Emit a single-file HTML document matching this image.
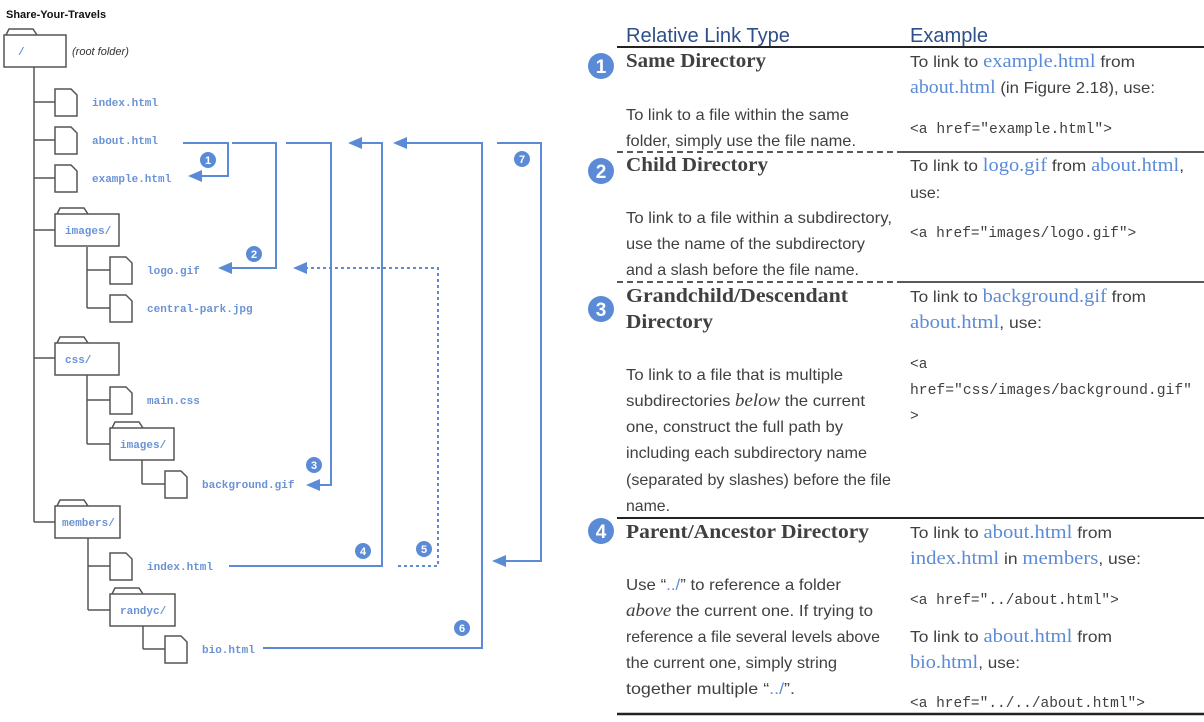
<!DOCTYPE html>
<html><head><meta charset="utf-8"><style>
body{margin:0;background:#fff;width:1204px;height:722px;overflow:hidden}
svg{display:block}
.t{font-family:"Liberation Mono",monospace;font-size:11px;font-weight:bold;fill:#6a93d6}
.b{font-family:"Liberation Sans",sans-serif;font-size:16px;fill:#404040}
.s{font-family:"Liberation Serif",serif}
.bl{fill:#5b8bd6;font-family:"Liberation Serif",serif;font-size:19px}
.h{font-family:"Liberation Serif",serif;font-size:20px;font-weight:bold;fill:#404040}
.c{font-family:"Liberation Mono",monospace;font-size:14.5px;fill:#404040}
.hd{font-family:"Liberation Sans",sans-serif;font-size:20px;fill:#2e4f8a}
</style></head><body>
<svg id="svg" width="1204" height="722" viewBox="0 0 1204 722" xmlns="http://www.w3.org/2000/svg">
<text x="6" y="18" font-family="Liberation Sans,sans-serif" font-size="11" font-weight="bold" fill="#111">Share-Your-Travels</text>
<g id="tree" stroke="#555" stroke-width="1.5" fill="none"></g>
<g id="labels"></g>
<text x="72" y="55" font-family="Liberation Sans,sans-serif" font-style="italic" font-size="11" fill="#333">(root folder)</text>
<g id="arrows" stroke="#5b8bd6" stroke-width="2" fill="none"></g>
<g id="badges"></g>

<g>
<text class="hd" x="626" y="42" textLength="164" lengthAdjust="spacingAndGlyphs">Relative Link Type</text>
<text class="hd" x="910" y="42" textLength="78" lengthAdjust="spacingAndGlyphs">Example</text>
<line x1="617" y1="47" x2="1204" y2="47" stroke="#222" stroke-width="2"/>
<line x1="617" y1="152" x2="900" y2="152" stroke="#222" stroke-width="1.5" stroke-dasharray="6,4"/>
<line x1="900" y1="152" x2="1204" y2="152" stroke="#222" stroke-width="1.5"/>
<line x1="617" y1="282" x2="900" y2="282" stroke="#222" stroke-width="1.5" stroke-dasharray="6,4"/>
<line x1="900" y1="282" x2="1204" y2="282" stroke="#222" stroke-width="1.5"/>
<line x1="617" y1="518" x2="1204" y2="518" stroke="#222" stroke-width="2"/>
<line x1="617" y1="714" x2="1204" y2="714" stroke="#222" stroke-width="2.5"/>

<text class="h" x="626" y="67" textLength="140" lengthAdjust="spacingAndGlyphs">Same Directory</text>
<text class="b" x="626" y="120" textLength="223" lengthAdjust="spacingAndGlyphs">To link to a file within the same</text>
<text class="b" x="626" y="146" textLength="230" lengthAdjust="spacingAndGlyphs">folder, simply use the file name.</text>
<text class="b" x="910" y="67" textLength="225" lengthAdjust="spacingAndGlyphs">To link to <tspan class="bl">example.html</tspan> from</text>
<text class="b" x="910" y="93" textLength="245" lengthAdjust="spacingAndGlyphs"><tspan class="bl">about.html</tspan> (in Figure 2.18), use:</text>
<text class="c" x="910" y="133" textLength="202" lengthAdjust="spacingAndGlyphs">&lt;a href="example.html"&gt;</text>

<text class="h" x="626" y="171" textLength="142" lengthAdjust="spacingAndGlyphs">Child Directory</text>
<text class="b" x="626" y="223" textLength="266" lengthAdjust="spacingAndGlyphs">To link to a file within a subdirectory,</text>
<text class="b" x="626" y="249" textLength="239" lengthAdjust="spacingAndGlyphs">use the name of the subdirectory</text>
<text class="b" x="626" y="275" textLength="233" lengthAdjust="spacingAndGlyphs">and a slash before the file name.</text>
<text class="b" x="910" y="171" textLength="274" lengthAdjust="spacingAndGlyphs">To link to <tspan class="bl">logo.gif</tspan> from <tspan class="bl">about.html</tspan>,</text>
<text class="b" x="910" y="198">use:</text>
<text class="c" x="910" y="237">&lt;a href="images/logo.gif"&gt;</text>

<text class="h" x="626" y="302" textLength="222" lengthAdjust="spacingAndGlyphs">Grandchild/Descendant</text>
<text class="h" x="626" y="328" textLength="87" lengthAdjust="spacingAndGlyphs">Directory</text>
<text class="b" x="626" y="380" textLength="217" lengthAdjust="spacingAndGlyphs">To link to a file that is multiple</text>
<text class="b" x="626" y="406" textLength="239" lengthAdjust="spacingAndGlyphs">subdirectories <tspan class="s" font-style="italic" font-size="18">below</tspan> the current</text>
<text class="b" x="626" y="432" textLength="217" lengthAdjust="spacingAndGlyphs">one, construct the full path by</text>
<text class="b" x="626" y="458" textLength="241" lengthAdjust="spacingAndGlyphs">including each subdirectory name</text>
<text class="b" x="626" y="485" textLength="265" lengthAdjust="spacingAndGlyphs">(separated by slashes) before the file</text>
<text class="b" x="626" y="511" textLength="44" lengthAdjust="spacingAndGlyphs">name.</text>
<text class="b" x="910" y="302" textLength="236" lengthAdjust="spacingAndGlyphs">To link to <tspan class="bl">background.gif</tspan> from</text>
<text class="b" x="910" y="328" textLength="132" lengthAdjust="spacingAndGlyphs"><tspan class="bl">about.html</tspan>, use:</text>
<text class="c" x="910" y="368">&lt;a</text>
<text class="c" x="910" y="394" textLength="282" lengthAdjust="spacingAndGlyphs">href="css/images/background.gif"</text>
<text class="c" x="910" y="420">&gt;</text>

<text class="h" x="626" y="538" textLength="243" lengthAdjust="spacingAndGlyphs">Parent/Ancestor Directory</text>
<text class="b" x="626" y="590" textLength="215" lengthAdjust="spacingAndGlyphs">Use “<tspan fill="#5b8bd6">../</tspan>” to reference a folder</text>
<text class="b" x="626" y="616" textLength="247" lengthAdjust="spacingAndGlyphs"><tspan class="s" font-style="italic" font-size="18">above</tspan> the current one. If trying to</text>
<text class="b" x="626" y="642" textLength="254" lengthAdjust="spacingAndGlyphs">reference a file several levels above</text>
<text class="b" x="626" y="668" textLength="211" lengthAdjust="spacingAndGlyphs">the current one, simply string</text>
<text class="b" x="626" y="694" textLength="169" lengthAdjust="spacingAndGlyphs">together multiple “<tspan fill="#5b8bd6">../</tspan>”.</text>
<text class="b" x="910" y="538" textLength="202" lengthAdjust="spacingAndGlyphs">To link to <tspan class="bl">about.html</tspan> from</text>
<text class="b" x="910" y="564" textLength="231" lengthAdjust="spacingAndGlyphs"><tspan class="bl">index.html</tspan> in <tspan class="bl">members</tspan>, use:</text>
<text class="c" x="910" y="604">&lt;a href="../about.html"&gt;</text>
<text class="b" x="910" y="642" textLength="202" lengthAdjust="spacingAndGlyphs">To link to <tspan class="bl">about.html</tspan> from</text>
<text class="b" x="910" y="668" textLength="110" lengthAdjust="spacingAndGlyphs"><tspan class="bl">bio.html</tspan>, use:</text>
<text class="c" x="910" y="707">&lt;a href="../../about.html"&gt;</text>
</g>
</svg>
<script>
const NS='http://www.w3.org/2000/svg';
function mk(parent,tag,attrs){const e=document.createElementNS(NS,tag);for(const k in attrs)e.setAttribute(k,attrs[k]);parent.appendChild(e);return e;}
const tree=document.getElementById('tree'),labels=document.getElementById('labels'),arrows=document.getElementById('arrows'),badges=document.getElementById('badges');
const lines=[[34,67,34,522],[34,102,55,102],[34,140,55,140],[34,178,55,178],[34,230,55,230],[34,358,55,358],[34,522,55,522],
[87,247,87,308],[87,270,110,270],[87,308,110,308],[87,375,87,444],[87,400,110,400],[87,444,110,444],[142,460,142,484],[142,484,165,484],
[88,538,88,610],[88,566,110,566],[88,610,110,610],[143,626,143,649],[143,649,165,649]];
lines.forEach(l=>{const e=mk(tree,'line',{x1:l[0],y1:l[1],x2:l[2],y2:l[3]});

});
const files=[[55,102,'index.html'],[55,140,'about.html'],[55,178,'example.html'],[110,270,'logo.gif'],[110,308,'central-park.jpg'],[110,400,'main.css'],[165,484,'background.gif'],[110,566,'index.html'],[165,649,'bio.html']];
files.forEach(f=>{const x=f[0],y=f[1]-13;
const e=mk(tree,'polygon',{points:`${x},${y} ${x+16},${y} ${x+22},${y+6} ${x+22},${y+27} ${x},${y+27}`,fill:'#fff'});


const t=mk(labels,'text',{x:x+37,y:f[1]+4,class:'t'});t.textContent=f[2];

});
const folders=[[4,35,62,'/',14],[55,214,64,'images/',10],[55,343,64,'css/',10],[110,428,64,'images/',10],[55,506,65,'members/',7],[110,594,65,'randyc/',10]];
folders.forEach(f=>{const x=f[0],y=f[1],w=f[2];
const e=mk(tree,'path',{d:`M${x+2},${y} L${x+5},${y-6} L${x+29},${y-6} L${x+33},${y} M${x},${y} h${w} v32 h${-w} Z`,fill:'#fff'});


const t=mk(labels,'text',{x:x+f[4],y:y+20,class:'t'});t.textContent=f[3];

});
const paths=[{p:[[183,143],[228,143],[228,176],[200,176]],d:false},
{p:[[232,143],[276,143],[276,268],[230,268]],d:false},
{p:[[286,143],[331,143],[331,485],[318,485]],d:false},
{p:[[229,566],[382,566],[382,143],[360,143]],d:false},
{p:[[398,566],[438,566],[438,268],[305,268]],d:true},
{p:[[263,648],[482,648],[482,143],[405,143]],d:false},
{p:[[497,143],[541,143],[541,561],[504,561]],d:false}];
paths.forEach(a=>{const e=mk(arrows,'polyline',{points:a.p.map(q=>q.join(',')).join(' ')});
if(a.d)e.setAttribute('stroke-dasharray','3,3');


const l=a.p[a.p.length-1];
const h=mk(arrows,'polygon',{points:`${l[0]-12},${l[1]} ${l[0]+2},${l[1]-6} ${l[0]+2},${l[1]+6}`,fill:'#5b8bd6',stroke:'none'});

});
const bd=[[208,160,'1'],[254,254,'2'],[314,465,'3'],[363,551,'4'],[424,549,'5'],[462,628,'6'],[522,159,'7']];
bd.forEach(b=>{const c=mk(badges,'circle',{cx:b[0],cy:b[1],r:8,fill:'#5b8bd6'});


const t=mk(badges,'text',{x:b[0],y:b[1]+4,'text-anchor':'middle','font-family':'Liberation Sans,sans-serif','font-size':11,'font-weight':'bold',fill:'#fff'});t.textContent=b[2];

});
const rb=[[601,66,'1'],[601,171,'2'],[601,309,'3'],[601,531,'4']];
rb.forEach(b=>{const c=mk(badges,'circle',{cx:b[0],cy:b[1],r:13,fill:'#5b8bd6'});


const t=mk(badges,'text',{x:b[0],y:b[1]+7,'text-anchor':'middle','font-family':'Liberation Sans,sans-serif','font-size':19,'font-weight':'bold',fill:'#fff'});t.textContent=b[2];

});
</script>
</body></html>
